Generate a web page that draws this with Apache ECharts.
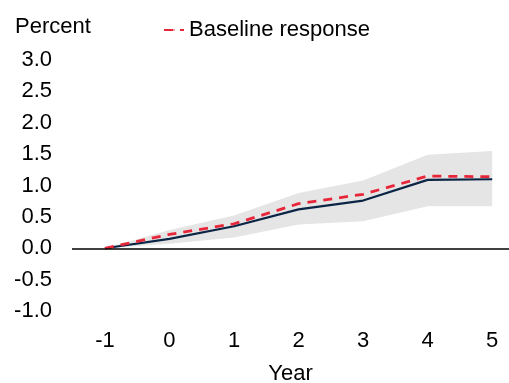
<!DOCTYPE html>
<html>
<head>
<meta charset="utf-8">
<script src="https://cdn.jsdelivr.net/npm/echarts@6/dist/echarts.min.js"></script>
<style>
  html, body { margin: 0; padding: 0; background: #fff; }
  #chart { width: 509px; height: 383px; }
</style>
</head>
<body>
<div id="chart"></div>
<script>
// Years after the shock
const years = [-1, 0, 1, 2, 3, 4, 5];
// Point estimate (solid line)
const estimate = [0, 0.15, 0.35, 0.62, 0.76, 1.09, 1.10];
// Baseline response (dashed line)
const baseline = [0, 0.22, 0.39, 0.71, 0.86, 1.15, 1.14];
// Confidence band
const bandLower = [0, 0.07, 0.17, 0.38, 0.43, 0.67, 0.67];
const bandUpper = [0, 0.29, 0.52, 0.88, 1.08, 1.49, 1.55];
// Axis ticks
const xTicks = [-1, 0, 1, 2, 3, 4, 5];

const font = 'Liberation Sans, Arial, sans-serif';
const fs = 22;
const pair = (xs, ys) => xs.map((x, i) => [x, ys[i]]);

const chart = echarts.init(document.getElementById('chart'));
chart.setOption({
  animation: false,
  grid: { left: 72, right: 0, top: 60, bottom: 72, containLabel: false, outerBoundsMode: 'none' },
  title: {
    text: 'Percent', left: 15, top: 16, padding: 0,
    textStyle: { fontFamily: font, fontSize: fs, fontWeight: 'normal', color: '#000' }
  },
  legend: {
    data: ['Baseline response'],
    left: 163, top: 19, padding: 0,
    itemWidth: 20, itemHeight: 2, itemGap: 4,
    textStyle: { fontFamily: font, fontSize: fs, color: '#000' }
  },
  xAxis: {
    type: 'value', min: -1.51, max: 5.26,
    axisLine: { show: false },
    axisTick: { show: false },
    splitLine: { show: false },
    name: 'Year', nameLocation: 'middle', nameGap: 52,
    nameTextStyle: { fontFamily: font, fontSize: fs, color: '#000' },
    axisLabel: {
      customValues: xTicks, margin: 19,
      fontFamily: font, fontSize: fs, color: '#000'
    }
  },
  yAxis: {
    type: 'value', min: -1, max: 3, interval: 0.5,
    axisLine: { show: false },
    axisTick: { show: false },
    splitLine: { show: false },
    axisLabel: {
      fontFamily: font, fontSize: fs, color: '#000', margin: 20,
      formatter: v => v.toFixed(1)
    }
  },
  series: [
    {
      name: 'band', type: 'custom', silent: true, z: 1,
      data: [[0]],
      renderItem: (params, api) => {
        const pts = [];
        years.forEach((x, i) => pts.push(api.coord([x, bandUpper[i]])));
        for (let i = years.length - 1; i >= 0; i--) pts.push(api.coord([years[i], bandLower[i]]));
        return { type: 'polygon', shape: { points: pts }, style: { fill: '#e5e5e5' } };
      }
    },
    {
      name: 'Estimate', type: 'line', symbol: 'none', z: 3,
      data: pair(years, estimate),
      lineStyle: { color: '#0b2545', width: 2.2 },
      markLine: {
        silent: true, symbol: 'none', label: { show: false },
        lineStyle: { color: '#000', width: 1.5, type: 'solid' },
        data: [{ yAxis: 0 }]
      }
    },
    {
      name: 'Baseline response', type: 'line', symbol: 'none', z: 4,
      data: pair(years, baseline),
      itemStyle: { color: '#e8263a' },
      lineStyle: { color: '#e8263a', width: 2.8, type: [9, 7] }
    }
  ]
});
</script>
</body>
</html>
